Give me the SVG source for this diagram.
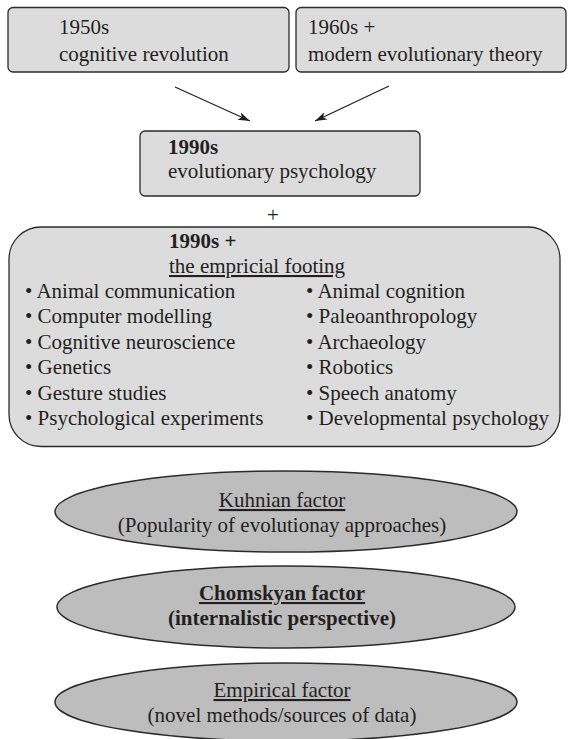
<svg xmlns="http://www.w3.org/2000/svg" width="573" height="739" viewBox="0 0 573 739" font-family="'Liberation Serif', 'Times New Roman', 'DejaVu Serif', serif">
  <style>
    text { font-family: 'Liberation Serif', 'Times New Roman', Times, 'DejaVu Serif', serif; font-size: 21px; fill: #231f20; }
    .b { font-weight: bold; }
    .u { text-decoration: underline; }
    .c { text-anchor: middle; }
    .box { fill: #dcdcdc; stroke: #2b2b2b; stroke-width: 1.3; }
    .ell { fill: #bdbdbd; stroke: #2b2b2b; stroke-width: 1.5; }
    .conn { stroke: #231f20; stroke-width: 1.3; fill: none; marker-end: url(#arr); }
  </style>
  <defs>
    <marker id="arr" viewBox="0 0 12 8" refX="12" refY="4" markerWidth="12" markerHeight="8" markerUnits="userSpaceOnUse" orient="auto">
      <path d="M0,0 L12,4 L0,8 L3,4 Z" fill="#231f20"/>
    </marker>
  </defs>

  <g id="node-1950s">
    <rect class="box" x="8" y="7.5" width="281" height="64.5" rx="5"/>
    <text x="59" y="34">1950s</text>
    <text x="59" y="61">cognitive revolution</text>
  </g>

  <g id="node-1960s">
    <rect class="box" x="296" y="7.5" width="270" height="64.5" rx="5"/>
    <text x="308" y="34">1960s +</text>
    <text x="308" y="61">modern evolutionary theory</text>
  </g>

  <g id="connectors">
    <line class="conn" x1="175" y1="87" x2="250" y2="121"/>
    <line class="conn" x1="389" y1="86" x2="315" y2="121"/>
  </g>

  <g id="node-1990s">
    <rect class="box" x="140" y="131" width="280" height="65" rx="5"/>
    <text class="b" x="168" y="154">1990s</text>
    <text x="168" y="178">evolutionary psychology</text>
  </g>

  <g id="plus">
    <text class="c" x="273" y="222">+</text>
  </g>

  <g id="node-empirical-footing">
    <rect class="box" x="9" y="227" width="551" height="219.5" rx="32"/>
    <text class="b" x="169" y="248">1990s +</text>
    <text class="u" x="169" y="273">the empricial footing</text>
    <text x="25" y="298">• Animal communication</text>
    <text x="25" y="323.4">• Computer modelling</text>
    <text x="25" y="348.8">• Cognitive neuroscience</text>
    <text x="25" y="374.2">• Genetics</text>
    <text x="25" y="399.6">• Gesture studies</text>
    <text x="25" y="425">• Psychological experiments</text>
    <text x="306" y="298">• Animal cognition</text>
    <text x="306" y="323.4">• Paleoanthropology</text>
    <text x="306" y="348.8">• Archaeology</text>
    <text x="306" y="374.2">• Robotics</text>
    <text x="306" y="399.6">• Speech anatomy</text>
    <text x="306" y="425">• Developmental psychology</text>
  </g>

  <g id="node-kuhnian">
    <ellipse class="ell" cx="286" cy="511.5" rx="231" ry="40.5"/>
    <text class="c u" x="282" y="507">Kuhnian factor</text>
    <text class="c" x="282" y="532">(Popularity of evolutionay approaches)</text>
  </g>

  <g id="node-chomskyan">
    <ellipse class="ell" cx="286" cy="607" rx="229" ry="41"/>
    <text class="c u b" x="282" y="600">Chomskyan factor</text>
    <text class="c b" x="282" y="625">(internalistic perspective)</text>
  </g>

  <g id="node-empirical">
    <ellipse class="ell" cx="286" cy="702" rx="231" ry="39"/>
    <text class="c u" x="282" y="697">Empirical factor</text>
    <text class="c" x="282" y="722">(novel methods/sources of data)</text>
  </g>
</svg>
